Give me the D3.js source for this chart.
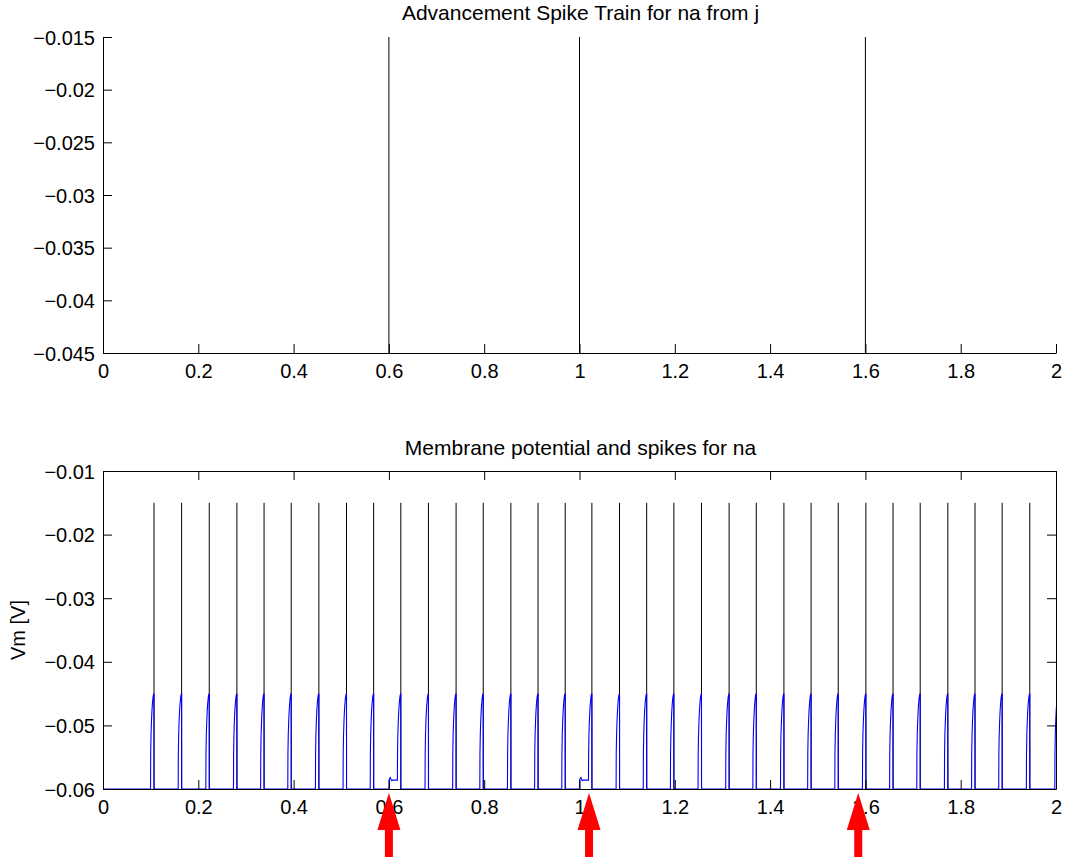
<!DOCTYPE html>
<html>
<head>
<meta charset="utf-8">
<script src="https://cdn.jsdelivr.net/npm/d3@7"></script>
<style>
  html, body { margin: 0; padding: 0; background: #fff; }
  svg { display: block; font-family: "Liberation Sans", Arial, Helvetica, sans-serif; }
</style>
</head>
<body>
<svg id="chart" width="1066" height="857"></svg>
<script>
// Input events (advancement spike train from j), seconds
const advanceTimes = [0.6, 1.0, 1.6];

// Output spike times of neuron na, seconds
const spikeTimes = [
  0.107, 0.165, 0.223, 0.281, 0.338, 0.395, 0.453, 0.511, 0.568, 0.625,
  0.683, 0.741, 0.798, 0.856, 0.913, 0.970, 1.026, 1.084, 1.141, 1.198,
  1.256, 1.314, 1.371, 1.429, 1.486, 1.543, 1.601, 1.658, 1.715, 1.773,
  1.830, 1.887, 1.945
];
// The next spike falls just after the end of the recording window
const nextSpikeAfterWindow = 2.0047;

// Membrane potential during the rise to a spike: [time relative to spike (s), Vm (V)]
const riseShape = [
  [-0.0072, -0.0600], [-0.0069, -0.0545], [-0.0062, -0.0515], [-0.0052, -0.0492],
  [-0.0042, -0.0476], [-0.0032, -0.0465], [-0.0022, -0.0457], [-0.0012, -0.0452],
  [0.0, -0.0450]
];
// Small depolarising bump after an input event: [time relative to event (s), Vm (V)]
const bumpShape = [
  [0.0, -0.0600], [0.0002, -0.0586], [0.0015, -0.0583], [0.0030, -0.0582],
  [0.0045, -0.0585], [0.0060, -0.0587], [0.0075, -0.0586]
];
const restVm = -0.060;      // resting / reset potential
const spikePeak = -0.015;   // height of drawn spike markers

// Axis ticks
const xTicks = [0, 0.2, 0.4, 0.6, 0.8, 1.0, 1.2, 1.4, 1.6, 1.8, 2.0];
const topYTicks = [-0.045, -0.04, -0.035, -0.03, -0.025, -0.02, -0.015];
const botYTicks = [-0.06, -0.05, -0.04, -0.03, -0.02, -0.01];

// Annotation arrows under the lower axes (time positions)
const arrowTimes = [0.6, 1.02, 1.585];

const svg = d3.select("#chart");
const fontSize = 20;
const titleSize = 21;
const left = 103, right = 1056;
const topPanel = { y0: 37, y1: 353 };
const botPanel = { y0: 471, y1: 789 };
const tickLen = 9;

const x = d3.scaleLinear().domain([0, 2]).range([left, right]);
const yTop = d3.scaleLinear().domain([-0.045, -0.015]).range([topPanel.y1, topPanel.y0]);
const yBot = d3.scaleLinear().domain([-0.06, -0.01]).range([botPanel.y1, botPanel.y0]);

const fmtTick = v => {
  let s = d3.format("")(+v.toFixed(4));
  return s.replace("-", "\u2013");
};

// ---------- Upper panel: advancement spike train ----------
const gTop = svg.append("g");
gTop.selectAll("line.ev").data(advanceTimes).join("line")
  .attr("x1", d => x(d)).attr("x2", d => x(d))
  .attr("y1", yTop(-0.045)).attr("y2", yTop(-0.015))
  .attr("stroke", "#000").attr("stroke-width", 1);

const axTopX = d3.axisBottom(x).tickValues(xTicks).tickSizeInner(-tickLen).tickSizeOuter(0)
  .tickPadding(tickLen + 10).tickFormat(fmtTick);
const axTopY = d3.axisLeft(yTop).tickValues(topYTicks).tickSizeInner(-tickLen).tickSizeOuter(0)
  .tickPadding(tickLen + 8).tickFormat(fmtTick);

function styleAxis(g) {
  g.selectAll("path.domain").attr("stroke", "#000").attr("stroke-width", 1);
  g.selectAll(".tick line").attr("stroke", "#000").attr("stroke-width", 1);
  g.selectAll(".tick text").attr("fill", "#000").attr("font-size", fontSize)
    .attr("font-family", "Liberation Sans, Arial, sans-serif");
}

gTop.append("g").attr("transform", `translate(0,${topPanel.y1})`).call(axTopX).call(styleAxis)
  .selectAll(".tick text").attr("dy", "0.71em").attr("y", 11);
gTop.append("g").attr("transform", `translate(${left},0)`).call(axTopY).call(styleAxis)
  .selectAll(".tick text").attr("dy", "0.35em").attr("x", -8);

svg.append("text").attr("x", (left + right) / 2 + 1).attr("y", 20)
  .attr("text-anchor", "middle").attr("font-size", titleSize).attr("fill", "#000")
  .text("Advancement Spike Train for na from j");

// ---------- Lower panel: membrane potential and spikes ----------
const gBot = svg.append("g");

svg.append("defs").append("clipPath").attr("id", "botClip")
  .append("rect").attr("x", left).attr("y", botPanel.y0)
  .attr("width", right - left).attr("height", botPanel.y1 - botPanel.y0);

// Spike markers
gBot.selectAll("line.sp").data(spikeTimes).join("line")
  .attr("x1", d => x(d)).attr("x2", d => x(d))
  .attr("y1", yBot(restVm)).attr("y2", yBot(spikePeak))
  .attr("stroke", "#000").attr("stroke-width", 1);

// Assemble membrane potential trace from spike times, rise shape and event bumps
const trace = [[0, restVm]];
const allSpikes = spikeTimes.concat([nextSpikeAfterWindow]);
allSpikes.forEach(s => {
  const riseStart = s + riseShape[0][0];
  const prev = trace[trace.length - 1][0];
  let level = restVm;
  advanceTimes.forEach(e => {
    if (e > prev && e < riseStart && riseStart - e > bumpShape[bumpShape.length - 1][0]) {
      bumpShape.forEach(([dt, v]) => trace.push([e + dt, v]));
      level = bumpShape[bumpShape.length - 1][1];
    }
  });
  trace.push([riseStart, level]);
  riseShape.forEach(([dt, v], i) => {
    if (i === 0) return;
    trace.push([s + dt, Math.max(v, level)]);
  });
  trace.push([s + 0.00015, restVm]);
});

const line = d3.line().x(d => x(d[0])).y(d => yBot(d[1])).curve(d3.curveLinear);
gBot.append("path").datum(trace)
  .attr("clip-path", "url(#botClip)")
  .attr("fill", "none").attr("stroke", "#0000ff").attr("stroke-width", 1.1)
  .attr("d", line);

// Box axes with inward ticks on all sides
const axBotX = d3.axisBottom(x).tickValues(xTicks).tickSizeInner(-tickLen).tickSizeOuter(0)
  .tickPadding(tickLen + 10).tickFormat(fmtTick);
const axBotY = d3.axisLeft(yBot).tickValues(botYTicks).tickSizeInner(-tickLen).tickSizeOuter(0)
  .tickPadding(tickLen + 8).tickFormat(fmtTick);
const axBotXTop = d3.axisTop(x).tickValues(xTicks).tickSizeInner(-tickLen).tickSizeOuter(0).tickFormat("");
const axBotYRight = d3.axisRight(yBot).tickValues(botYTicks).tickSizeInner(-tickLen).tickSizeOuter(0).tickFormat("");

gBot.append("g").attr("transform", `translate(0,${botPanel.y1})`).call(axBotX).call(styleAxis)
  .selectAll(".tick text").attr("dy", "0.71em").attr("y", 11);
gBot.append("g").attr("transform", `translate(${left},0)`).call(axBotY).call(styleAxis)
  .selectAll(".tick text").attr("dy", "0.35em").attr("x", -8);
gBot.append("g").attr("transform", `translate(0,${botPanel.y0})`).call(axBotXTop).call(styleAxis);
gBot.append("g").attr("transform", `translate(${right},0)`).call(axBotYRight).call(styleAxis);

svg.append("text").attr("x", (left + right) / 2 + 1).attr("y", 455)
  .attr("text-anchor", "middle").attr("font-size", titleSize).attr("fill", "#000")
  .text("Membrane potential and spikes for na");

svg.append("text")
  .attr("transform", `translate(25,${(botPanel.y0 + botPanel.y1) / 2}) rotate(-90)`)
  .attr("text-anchor", "middle").attr("font-size", fontSize).attr("fill", "#000")
  .text("Vm [V]");

// Red annotation arrows pointing up at the lower time axis
const arrowTip = 793, headBase = 830, headHalf = 11.5, shaftHalf = 4, shaftEnd = 857;
svg.selectAll("path.arrow").data(arrowTimes).join("path")
  .attr("fill", "#ff0000").attr("stroke", "none")
  .attr("d", t => {
    const cx = x(t);
    return `M${cx},${arrowTip} L${cx + headHalf},${headBase} L${cx + shaftHalf},${headBase}` +
           ` L${cx + shaftHalf},${shaftEnd} L${cx - shaftHalf},${shaftEnd} L${cx - shaftHalf},${headBase}` +
           ` L${cx - headHalf},${headBase} Z`;
  });
</script>
</body>
</html>
